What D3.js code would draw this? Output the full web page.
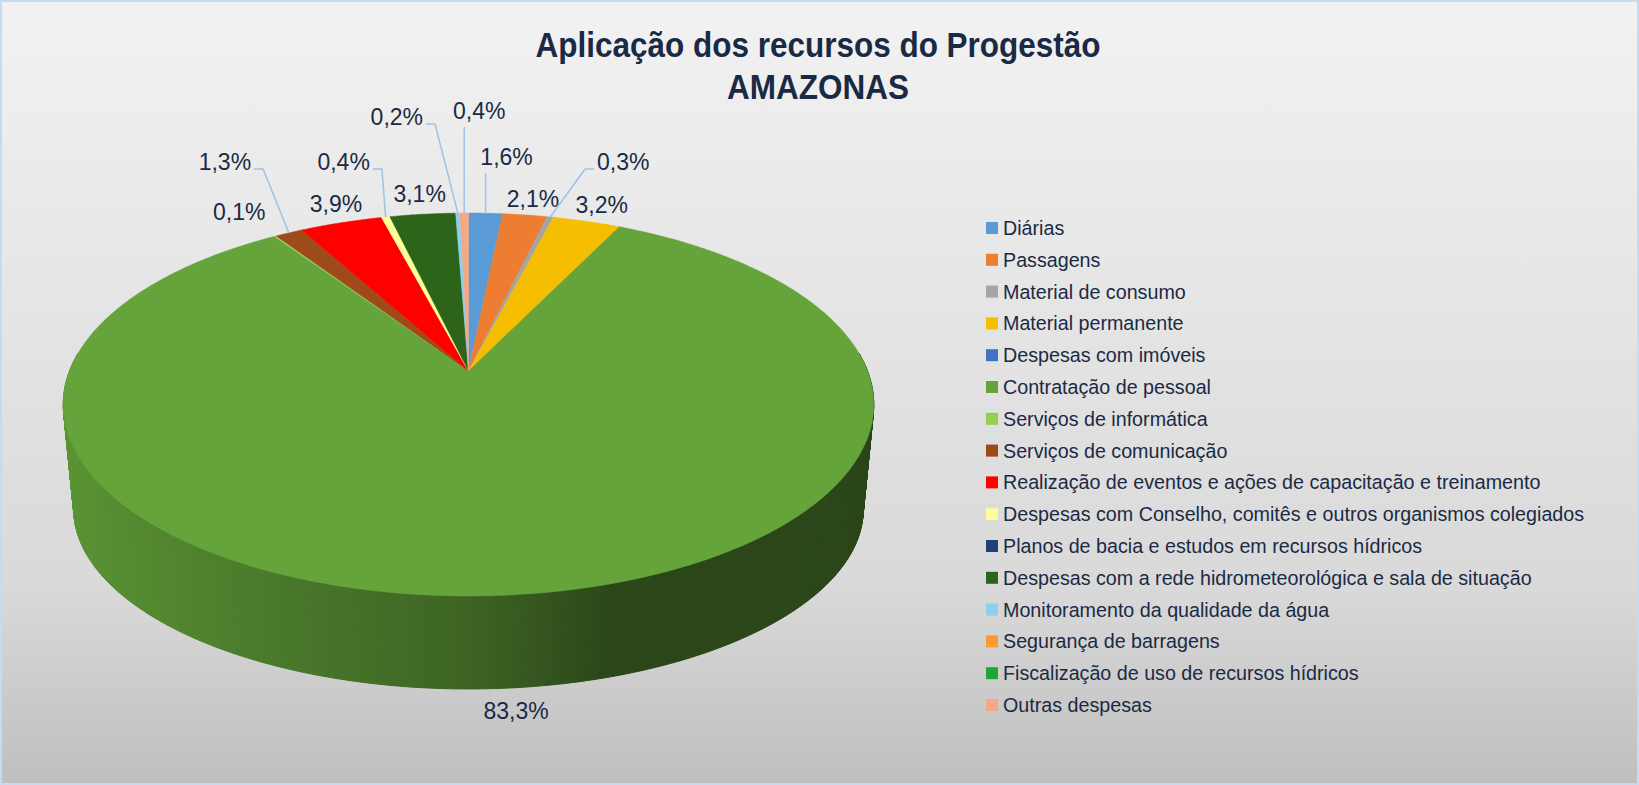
<!DOCTYPE html>
<html>
<head>
<meta charset="utf-8">
<script src="https://cdn.jsdelivr.net/npm/d3@7"></script>
<style>
  html, body { margin: 0; padding: 0; background: #fff; }
  svg { display: block; }
  text { font-family: "Liberation Sans", Arial, sans-serif; }
</style>
</head>
<body>
<svg id="chart" width="1639" height="785"></svg>
<script>
// --- data (percentages as shown on the chart) ---
const titleLines = ["Aplicação dos recursos do Progestão", "AMAZONAS"];
const categories = [
  "Diárias",
  "Passagens",
  "Material de consumo",
  "Material permanente",
  "Despesas com imóveis",
  "Contratação de pessoal",
  "Serviços de informática",
  "Serviços de comunicação",
  "Realização de eventos e ações de capacitação e treinamento",
  "Despesas com Conselho, comitês e outros organismos colegiados",
  "Planos de bacia e estudos em recursos hídricos",
  "Despesas com a rede hidrometeorológica e sala de situação",
  "Monitoramento da qualidade da água",
  "Segurança de barragens",
  "Fiscalização de uso de recursos hídricos",
  "Outras despesas"
];
const values = [1.6, 2.1, 0.3, 3.2, 0, 83.3, 0.1, 1.3, 3.9, 0.4, 0, 3.1, 0.2, 0, 0, 0.4];
const colors = [
  "#5b9bd5", "#ed7d31", "#a5a5a5", "#f5be00", "#4472c4", "#64a43a",
  "#92d050", "#9e4a1a", "#ff0000", "#ffff99", "#203f78", "#2c6519",
  "#8ccfee", "#ff9933", "#20a637", "#f4a986"
];

// label nudges relative to the slice rim point (layout only)
const labelNudge = [
  [21, -56], [8, -16], [73, -55], [15, -17], null, [15, 22],
  [-36, -24], [-64, -71], [-5, -19], [-42, -55], null, [-3, -21],
  [-61, -96], null, null, [15, -102]
];
const hasLeader = [true, false, true, false, false, false,
  false, true, false, true, false, false, true, false, false, true];

const W = 1639, H = 785;
const svg = d3.select("#chart");
const textColor = "#1b2a44";

// background
const defs = svg.append("defs");
const bg = defs.append("linearGradient").attr("id", "bg")
  .attr("x1", 0).attr("y1", 0).attr("x2", 0).attr("y2", 1);
bg.append("stop").attr("offset", "0").attr("stop-color", "#f2f2f2");
bg.append("stop").attr("offset", "0.75").attr("stop-color", "#d9d9d9");
bg.append("stop").attr("offset", "1").attr("stop-color", "#bfbfbf");
svg.append("rect").attr("x", 1).attr("y", 1).attr("width", W - 2).attr("height", H - 2)
  .attr("fill", "url(#bg)").attr("stroke", "#c6dbf1").attr("stroke-width", 2);

// title (slightly condensed, like the original Calibri)
svg.append("g").selectAll("text").data(titleLines).join("text")
  .attr("transform", (d, i) => `translate(818,${44 + i * 42}) scale(0.9,1)`)
  .attr("dy", "0.36em")
  .attr("text-anchor", "middle")
  .attr("font-size", 35).attr("font-weight", "bold")
  .attr("fill", textColor)
  .text(d => d);

// --- 3D pie projection ---
const cx = 468.5, cy = 371, Rx = 399, A = 185.6, K = 0.175;
function topPt(theta, r) {
  const X = r * Math.sin(theta), Z = r * Math.cos(theta);
  const w = 1 + K * Z;
  return [cx + Rx * X / w, cy - A * Z / w];
}
function botPt(theta) {
  const p = topPt(theta, 1), Z = Math.cos(theta);
  return [cx + (p[0] - cx) * 0.974, p[1] + 107.5 + 14.5 * Z];
}

const arcs = d3.pie().sort(null).value(d => d)(values);
const line = d3.line();
const step = Math.PI / 360;

function arcPoints(a0, a1, f) {
  const n = Math.max(1, Math.ceil((a1 - a0) / step));
  return d3.range(n + 1).map(j => f(a0 + (a1 - a0) * j / n));
}

// side wall, shaded by facing direction
const shade = d3.scaleLinear().domain([-1, 0, 0.3, 1]).range([0.92, 0.61, 0.43, 0.43]).clamp(true);
const quads = [];
arcs.forEach((a, i) => {
  if (a.value <= 0) return;
  const n = Math.max(1, Math.ceil((a.endAngle - a.startAngle) / (Math.PI / 360)));
  for (let j = 0; j < n; j++) {
    const t0 = a.startAngle + (a.endAngle - a.startAngle) * j / n;
    const t1 = a.startAngle + (a.endAngle - a.startAngle) * (j + 1) / n;
    const tm = (t0 + t1) / 2;
    if (Math.cos(tm) > 0.1) continue;
    const base = d3.rgb(colors[i]);
    const f = shade(Math.sin(tm));
    const c = d3.rgb(base.r * f, base.g * f, base.b * f).formatHex();
    quads.push({ z: Math.cos(tm), c, pts: [topPt(t0, 1), topPt(t1, 1), botPt(t1), botPt(t0)] });
  }
});
quads.sort((p, q) => q.z - p.z);
svg.append("g").selectAll("path").data(quads).join("path")
  .attr("d", d => line(d.pts) + "Z")
  .attr("fill", d => d.c).attr("stroke", d => d.c).attr("stroke-width", 1);

// top faces
svg.append("g").selectAll("path").data(arcs.filter(a => a.value > 0)).join("path")
  .attr("d", a => line([[cx, cy]].concat(arcPoints(a.startAngle, a.endAngle, t => topPt(t, 1)))) + "Z")
  .attr("fill", a => colors[a.index])
  .attr("stroke", a => colors[a.index]).attr("stroke-width", 0.5).attr("stroke-linejoin", "round");

// data labels
const fmt = v => d3.format(".1f")(v).replace(".", ",") + "%";
const gLab = svg.append("g");
arcs.forEach((a, i) => {
  if (a.value <= 0) return;
  const mid = (a.startAngle + a.endAngle) / 2;
  const rim = Math.cos(mid) >= 0 ? topPt(mid, 1) : botPt(mid);
  const nd = labelNudge[i] || [0, -20];
  const lx = rim[0] + nd[0], ly = rim[1] + nd[1];
  const t = gLab.append("text")
    .attr("x", lx).attr("y", ly).attr("dy", "0.36em")
    .attr("text-anchor", "middle").attr("font-size", 23)
    .attr("fill", textColor).text(fmt(a.value));
  if (!hasLeader[i]) return;
  const hw = t.node().getComputedTextLength() / 2;
  let pts;
  if (Math.abs(lx - rim[0]) < hw) {
    pts = [[rim[0], ly + 16], rim];
  } else {
    const dir = rim[0] > lx ? 1 : -1;
    const ex = lx + dir * (hw + 3);
    pts = [[ex, ly + 7], [ex + dir * 9, ly + 7], rim];
  }
  gLab.append("path").attr("d", line(pts))
    .attr("fill", "none").attr("stroke", "#9dc3e6").attr("stroke-width", 1.5);
});

// legend
const leg = svg.append("g").attr("transform", "translate(986,228)");
const rows = leg.selectAll("g").data(categories).join("g")
  .attr("transform", (d, i) => `translate(0,${i * 31.8})`);
rows.append("rect").attr("x", 0).attr("y", -6).attr("width", 12).attr("height", 12)
  .attr("fill", (d, i) => colors[i]);
rows.append("text").attr("x", 17).attr("y", 0).attr("dy", "0.35em")
  .attr("font-size", 19.7).attr("fill", textColor).text(d => d);
</script>
</body>
</html>
